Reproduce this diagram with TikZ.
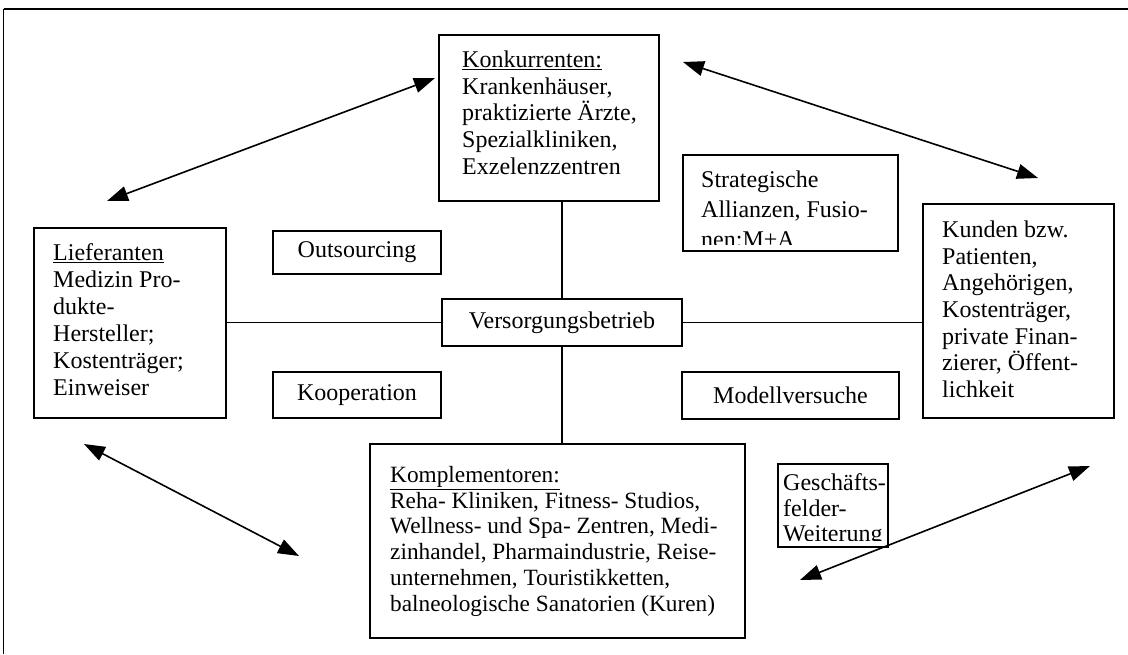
\documentclass[tikz,border=0pt]{standalone}
\usepackage{fontspec}
\setmainfont{Liberation Serif}
\usetikzlibrary{arrows.meta}

\begin{document}
\begin{tikzpicture}[x=1pt,y=-1pt,
  boxshape/.style={draw=black,line width=2pt,inner sep=0pt,anchor=north west,
    font=\fontsize{24}{26.7}\selectfont},
  txt/.style={anchor=north west,inner sep=0pt,align=left,
    font=\fontsize{24}{26.7}\selectfont},
  link/.style={line width=1.8pt},
  dblarrow/.style={line width=1.6pt,
    {Triangle[length=21pt,width=15pt]}-{Triangle[length=21pt,width=15pt]}}
]
\useasboundingbox (0,0) rectangle (1128,654);

% outer frame (top and left edges only)
\draw[line width=1.4pt] (3.5,654) -- (3.5,9);
\draw[line width=2.6pt] (3.5,9) -- (1128,9);

% boxes
\node[boxshape,minimum width=220pt,minimum height=166pt] (konk) at (438,34) {};
\node[boxshape,minimum width=192pt,minimum height=190pt] (lief) at (33,227) {};
\node[boxshape,minimum width=168pt,minimum height=43pt] (outs) at (272,230) {Outsourcing};
\node[boxshape,minimum width=240pt,minimum height=47pt] (vb) at (441,298) {Versorgungsbetrieb};
\node[boxshape,minimum width=215pt,minimum height=96pt] (strat) at (682,154) {};
\node[boxshape,minimum width=191pt,minimum height=214pt] (kund) at (922,203) {};
\node[boxshape,minimum width=168pt,minimum height=46pt] (koop) at (272,371) {Kooperation};
\node[boxshape,minimum width=217pt,minimum height=47pt] (modell) at (681,371) {Modellversuche};
\node[boxshape,minimum width=375pt,minimum height=194pt] (komp) at (369,443) {};
\node[boxshape,minimum width=110pt,minimum height=83pt] (gesch) at (777,463) {};

% box texts
\node[txt] (konktxt) at (462,50.5) {\underline{Konkurrenten:}\\Krankenhäuser,\\praktizierte Ärzte,\\Spezialkliniken,\\Exzelenzzentren};
\node[txt,font=\fontsize{24}{27}\selectfont] (lieftxt) at (53,243.5) {\underline{Lieferanten}\\Medizin Pro-\\dukte-\\Hersteller;\\Kostenträger;\\Einweiser};
\node[txt] (kundtxt) at (942,220.5) {Kunden bzw.\\Patienten,\\Angehörigen,\\Kostenträger,\\private Finan-\\zierer, Öffent-\\lichkeit};
\node[txt,font=\fontsize{23.3}{25.8}\selectfont] (komptxt) at (390,466) {\underline{Komplementoren:}\\Reha- Kliniken, Fitness- Studios,\\Wellness- und Spa- Zentren, Medi-\\zinhandel, Pharmaindustrie, Reise-\\unternehmen, Touristikketten,\\balneologische Sanatorien (Kuren)};
\begin{scope}
  \clip (682,154) rectangle (897,244);
  \node[txt,font=\fontsize{24}{30}\selectfont] (strattxt) at (701,170.6) {Strategische\\Allianzen, Fusio-\\nen:M+A};
\end{scope}
\begin{scope}
  \clip (777,463) rectangle (887,540);
  \node[txt,font=\fontsize{24}{25.5}\selectfont] (geschtxt) at (783,473.6) {Geschäfts-\\felder-\\Weiterung};
\end{scope}

% connections to the central node
\draw[link] (vb.north) -- (vb.north |- konk.south);
\draw[link] (vb.south) -- (vb.south |- komp.north);
\draw[link] (vb.west) -- (vb.west -| lief.east);
\draw[link] (vb.east) -- (vb.east -| kund.west);

% double-headed arrows
\coordinate (a1s) at (107,201);
\coordinate (a1e) at (435,78);
\coordinate (a2s) at (683,62);
\coordinate (a2e) at (1038,178);
\coordinate (a3s) at (84,444);
\coordinate (a3e) at (299,556);
\coordinate (a4s) at (800,580);
\coordinate (a4e) at (1090,466);
\draw[dblarrow] (a1s) -- (a1e);
\draw[dblarrow] (a2s) -- (a2e);
\draw[dblarrow] (a3s) -- (a3e);
\draw[dblarrow] (a4s) -- (a4e);

\end{tikzpicture}
\end{document}
